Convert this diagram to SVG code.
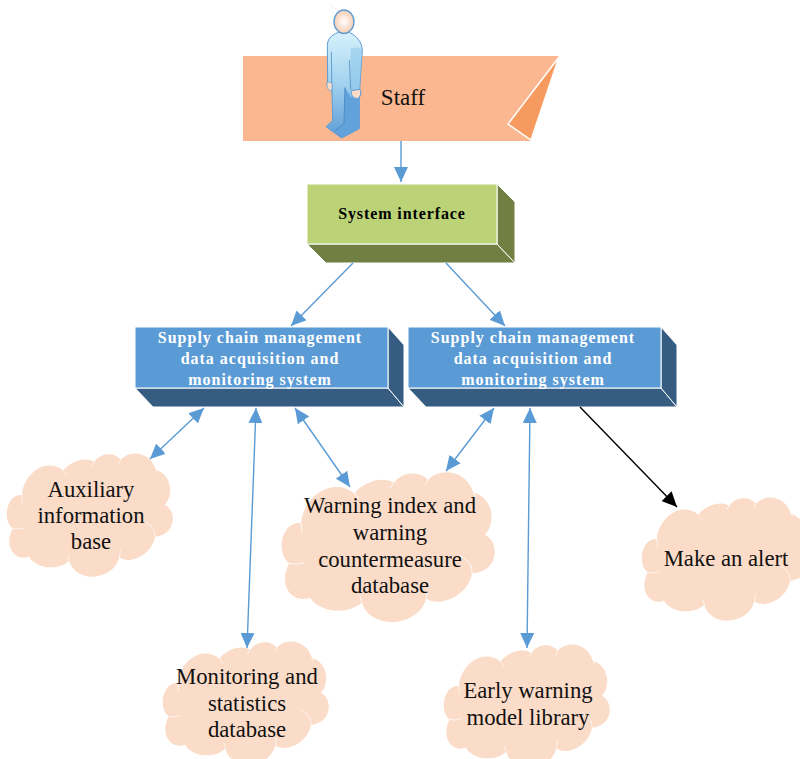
<svg xmlns="http://www.w3.org/2000/svg" width="800" height="759" viewBox="0 0 800 759">
<style>
text{font-family:"Liberation Serif","Times New Roman",serif;text-anchor:middle}
.t{font-size:22.7px;fill:#111}
.b{font-size:16px;font-weight:bold;fill:#fff;letter-spacing:1px}
.c{fill:#fbdcc8}
.n{fill:none;stroke:#fff;stroke-width:2}
.a{fill:none;stroke:#5b9bd5;stroke-width:1.4;marker-end:url(#m)}
.d{marker-start:url(#ms)}
.f{stroke:#fff;stroke-width:1}
</style>
<defs>
<marker id="m" markerUnits="userSpaceOnUse" markerWidth="16" markerHeight="14" refX="15" refY="7" orient="auto"><path d="M0,0L15,7L0,14Z" fill="#5b9bd5"/></marker>
<marker id="ms" markerUnits="userSpaceOnUse" markerWidth="16" markerHeight="14" refX="1" refY="7" orient="auto"><path d="M16,0L1,7L16,14Z" fill="#5b9bd5"/></marker>
<marker id="mk" markerUnits="userSpaceOnUse" markerWidth="16" markerHeight="14" refX="15" refY="7" orient="auto"><path d="M0,0L15,7L0,14Z" fill="#000"/></marker>
<linearGradient id="g" x1="0" y1="0" x2="0" y2="1"><stop offset="0" stop-color="#d6f1fb"/><stop offset=".45" stop-color="#a6d5f0"/><stop offset="1" stop-color="#5b9bd5"/></linearGradient>
<radialGradient id="h"><stop offset="0" stop-color="#fff"/><stop offset="1" stop-color="#f6cdb4"/></radialGradient>
<g id="cloud" transform="scale(.3333)">
<path class="c" d="M66,165C70,100 140,50 190,92C215,60 260,50 283,66C300,38 345,35 362,60C385,30 450,30 468,90C510,100 525,160 495,195C530,210 530,285 465,290C455,345 390,375 358,352C340,425 225,430 208,362C170,395 110,385 85,350C45,365 10,320 38,265C5,240 20,160 66,165Z"/>
<path class="n" d="M190,92Q197,98 200,106M283,66Q277,72 275,78M362,60Q357,66 356,72M468,90Q472,95 473,100M495,195Q507,188 511,174M465,290Q468,262 435,245M358,352Q361,342 361,330M208,362Q204,352 204,345M85,350Q88,354 92,356M38,265Q55,270 72,264M66,165Q65,175 68,190"/>
</g>
</defs>
<g id="staff">
<path d="M243,56H559L531,141H243Z" fill="#fbb78f"/>
<path d="M559,57L508,124L531,140Z" fill="#f79a5f" stroke="#fff" stroke-width="1.5"/>
<text x="403" y="105" style="font-size:23px;fill:#111">Staff</text>
</g>
<g id="person" transform="translate(230,0) scale(.3333)">
<path d="M302,16L324,31" stroke="#fbdcc8" stroke-width="2" fill="none"/>
<path d="M325,97C300,108 292,118 292,140L293,240C290,255 292,270 306,274L308,362L288,380L335,414L388,386L388,292C394,285 394,275 389,268L397,150C395,125 380,108 358,97Z" fill="url(#g)" stroke="#5b9bd5" stroke-width="3"/>
<path d="M362,145C375,142 390,140 397,150L389,268L360,270Z" fill="#8cc6ea" opacity=".55"/>
<path d="M344,262L342,372L316,392L335,413L388,386V292L362,290Z" fill="#62a2da"/>
<path d="M345,262L342,370L316,392M304,155L306,274M358,180L362,268" fill="none" stroke="#3f7fb8" stroke-width="2"/>
<path d="M293,245C288,258 292,270 305,274L307,250Z" fill="#fbdcc8" stroke="#5b9bd5" stroke-width="2"/>
<path d="M364,272C362,290 375,298 385,295C394,285 393,275 390,268Z" fill="#fbdcc8" stroke="#5b9bd5" stroke-width="3"/>
<path d="M325,96Q342,108 358,96L358,90H325Z" fill="#c0504d" stroke="#5b9bd5"/>
<ellipse cx="342" cy="65" rx="30" ry="35" fill="url(#h)" stroke="#5b9bd5" stroke-width="4"/>
</g>
<g id="system-interface">
<path class="f" d="M307,244H497L515,263H326Z" fill="#727f42"/>
<path class="f" d="M497,184L515,202V263L497,244Z" fill="#727f42"/>
<rect class="f" x="307" y="184" width="190" height="60" fill="#bbd277"/>
<text x="402" y="219" style="font-size:16px;font-weight:bold;fill:#000;letter-spacing:.9px">System interface</text>
</g>
<g id="acq-left">
<path class="f" d="M135,388H388L404,407H153Z" fill="#365d81"/>
<path class="f" d="M388,327L404,345V407L388,388Z" fill="#365d81"/>
<rect class="f" x="135" y="327" width="253" height="61" fill="#5b9bd5"/>
<text class="b" x="260" y="343">Supply chain management</text>
<text class="b" x="260" y="364">data acquisition and</text>
<text class="b" x="260" y="385">monitoring system</text>
</g>
<g id="acq-right">
<path class="f" d="M408,388H661L677,407H426Z" fill="#365d81"/>
<path class="f" d="M661,327L677,345V407L661,388Z" fill="#365d81"/>
<rect class="f" x="408" y="327" width="253" height="61" fill="#5b9bd5"/>
<text class="b" x="533" y="343">Supply chain management</text>
<text class="b" x="533" y="364">data acquisition and</text>
<text class="b" x="533" y="385">monitoring system</text>
</g>
<g id="connectors">
<path class="a" d="M401,141V182"/>
<path class="a" d="M353,263L291,326"/>
<path class="a" d="M446,263L505,326"/>
<path class="a d" d="M204,408L150,459"/>
<path class="a d" d="M256,408L247,648"/>
<path class="a d" d="M295,408L350,487"/>
<path class="a d" d="M494,408L446,471"/>
<path class="a d" d="M530,408L527,648"/>
<path d="M580,407L677,507" stroke="#000" stroke-width="1.4" fill="none" marker-end="url(#mk)"/>
</g>
<g id="aux"><use href="#cloud" transform="translate(0,440)"/>
<text class="t"><tspan x="91" y="497">Auxiliary</tspan><tspan x="91" y="523">information</tspan><tspan x="91" y="549">base</tspan></text></g>
<g id="monitoring"><use href="#cloud" transform="translate(156,628)"/>
<text class="t"><tspan x="247" y="684">Monitoring and</tspan><tspan x="247" y="711">statistics</tspan><tspan x="247" y="737">database</tspan></text></g>
<g id="warning"><use href="#cloud" transform="translate(273,456) scale(1.284,1.215)"/>
<text class="t"><tspan x="390" y="513">Warning index and</tspan><tspan x="390" y="540">warning</tspan><tspan x="390" y="567">countermeasure</tspan><tspan x="390" y="593">database</tspan></text></g>
<g id="alert"><use href="#cloud" transform="translate(635,484)"/>
<text class="t" x="726" y="566">Make an alert</text></g>
<g id="early"><use href="#cloud" transform="translate(437,631)"/>
<text class="t"><tspan x="528" y="698">Early warning</tspan><tspan x="528" y="725">model library</tspan></text></g>
</svg>
